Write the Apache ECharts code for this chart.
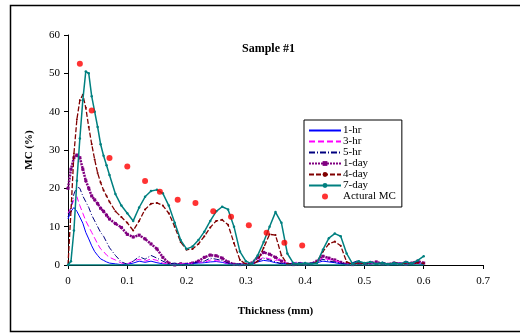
<!DOCTYPE html>
<html><head><meta charset="utf-8">
<script src="https://cdn.jsdelivr.net/npm/echarts@6/dist/echarts.min.js"></script>
<style>html,body{margin:0;padding:0;background:#fff}#c{width:520px;height:333px}</style>
</head><body><div id="c"></div>
<script>
const thickness = [0,0.005,0.01,0.015,0.02,0.025,0.03,0.035,0.04,0.045,0.05,0.055,0.06,0.065,0.07,
 0.08,0.09,0.10,0.11,0.12,0.13,0.14,0.15,0.16,0.17,0.18,0.19,0.20,0.21,0.22,0.23,0.24,0.25,0.26,0.27,0.28,0.29,
 0.30,0.31,0.32,0.33,0.34,0.35,0.36,0.37,0.38,0.39,0.40,0.41,0.42,0.43,0.44,0.45,0.46,0.47,0.48,0.49,
 0.50,0.51,0.52,0.53,0.54,0.55,0.56,0.57,0.58,0.59,0.60];
const hr1 = [12,14,15,14,12.5,10.9,8.5,6.8,5,3.5,2.5,1.6,1.2,0.8,0.5,
 0.3,0.1,0.2,0.5,1,0.7,1,0.6,0.3,0.1,0.2,0.1,0.3,0.4,0.5,0.6,0.8,0.9,0.7,0.3,0.1,0.2,
 0.1,0.3,0.8,1.2,1,0.6,0.4,0.2,0.3,0.2,0.4,0.2,0.6,1,0.8,0.6,0.3,0.1,0.5,0.8,
 0.3,0.6,0.2,0.5,0.3,0.2,0.5,0.3,0.2,0.4,0.1];
const hr3 = [13.5,15,17,17.8,15.5,13.5,11.5,10,8.5,7,5.5,4.2,3.5,2.6,2,
 1.3,0.5,0.3,1,1.5,1,1.6,1.2,0.5,0.2,0.1,0.3,0.2,0.5,0.8,0.7,1.3,1.1,1,0.3,0.1,0.2,
 0.1,0.4,1.2,2,1.6,1.2,1.5,0.4,0.6,0.8,0.3,0.5,1,1.8,1.4,1.2,0.6,0.2,0.4,0.3,
 0.6,0.2,0.5,0.3,0.2,0.5,0.6,0.3,0.2,0.5,0.2];
const hr5 = [12.5,15,18.5,20.4,20,18,16.5,15,13,11.5,10,8.5,7.5,6,4.5,
 2.5,0.8,0.2,1,2.2,1.5,2.5,1.8,1,0.3,0.5,0.2,0.1,0.5,0.8,1,1.8,1.5,1.2,0.5,0.3,0.2,
 0.1,0.4,1,1.8,1.3,0.8,0.3,0.5,0.2,0.6,0.3,0.5,0.8,1.5,1,0.8,0.5,0.2,0.6,1.2,
 0.4,1,0.3,0.8,0.2,0.7,0.3,1,0.4,0.8,0.3];
const day1 = [20,25,28,28.7,28,25,22,20,18,17,16,14.8,14,13,12,
 10.8,9.8,8,7.3,7.8,6.8,5.5,4.2,2,0.5,0,0.3,0.2,0.5,1,2,2.6,2.4,1.8,0.8,0.2,0.1,
 0.2,0.5,2,3.3,2.8,2,1,0.2,0.1,0.3,0.2,0.3,1,2.3,1.8,1.3,0.7,0.2,0.1,0.4,
 0.2,0.5,0.8,0.3,0.2,0.5,0.3,0.2,0.5,1,0.5];
const day4 = [0,14,29,38,43,44.4,41,36,31.5,27.5,24,21.5,19.5,18,16.5,
 14,12.5,11,9,11.5,14.5,16,16.2,15.5,13.5,10,6,4,4.2,5.5,7.5,9.8,11.5,11.8,10.5,5.7,1.3,
 0.2,0,1,4.5,8,7.8,2.5,0.2,0.3,0.1,0.4,0.2,0.8,3.5,5.5,6.1,5,0.8,0.2,0.6,
 0.3,0.7,0.2,0.5,0.2,0.6,0.3,0.5,0.2,0.6,0.4];
const day7 = [0,1,9,22,33,43,50.5,50,44,40,36,31.5,28.5,26,23.5,
 18.5,15.5,13.5,11.5,15,17.8,19.3,19.6,18.7,15.5,11,6.5,4.2,4.8,6.5,8.7,11.5,14,15.2,14.5,10,3.5,
 1,0.3,2.5,6,10,13.8,11,3,0.5,0.3,0.5,0.3,0.5,4,7,8.2,7.5,3,0.3,1,
 0.5,0.8,0.3,0.6,0.2,0.5,0.3,0.8,0.4,1.2,2.3];
const baseX = [0, 0.6];
const baseY = [0, 0];
const mcX = [0.02,0.04,0.07,0.10,0.13,0.155,0.185,0.215,0.245,0.275,0.305,0.335,0.365,0.395];
const mcY = [52.5,40.3,27.9,25.7,21.9,19.1,17.0,16.2,14.0,12.6,10.4,8.4,5.8,5.1];
const xTicks = [0,0.1,0.2,0.3,0.4,0.5,0.6,0.7];
const yTicks = [0,10,20,30,40,50,60];

const pair = (xs, ys) => xs.map((x, i) => [x, ys[i]]);
const F = 'Liberation Serif';
const noSym = {opacity: 0};
const chart = echarts.init(document.getElementById('c'), null, {renderer: 'canvas'});
chart.setOption({
  animation: false,
  backgroundColor: '#fff',
  title: {text: 'Sample #1', left: 237, top: 38,
    textStyle: {fontFamily: F, fontSize: 12, fontWeight: 'bold', color: '#000'}},
  grid: {left: 68, right: 37, top: 35, bottom: 68},
  legend: {
    orient: 'vertical', left: 304, top: 120, itemGap: 0, itemWidth: 32, itemHeight: 6,
    padding: [5, 6, 5, 4], borderColor: '#000', borderWidth: 1, backgroundColor: '#fff',
    textStyle: {fontFamily: F, fontSize: 11, lineHeight: 11, color: '#000', padding: [0,0,0,-3]},
    data: [
      {name: '1-hr', itemStyle: noSym},
      {name: '3-hr', itemStyle: noSym},
      {name: '5-hr', itemStyle: noSym},
      {name: '1-day'},
      {name: '4-day'},
      {name: '7-day'},
      {name: 'Actural MC'}
    ]
  },
  xAxis: {
    type: 'value', min: 0, max: 0.7, interval: 0.1,
    name: 'Thickness (mm)', nameLocation: 'middle', nameGap: 41,
    nameTextStyle: {fontFamily: F, fontSize: 11, fontWeight: 'bold', color: '#000'},
    axisLine: {lineStyle: {color: '#000', width: 1}},
    axisTick: {inside: false, length: 4, lineStyle: {color: '#000'}},
    axisLabel: {fontFamily: F, fontSize: 11, color: '#000', margin: 11,
      formatter: v => { const t = xTicks.find(k => Math.abs(k - v) < 1e-9); return t === undefined ? '' : String(t); }},
    splitLine: {show: false}
  },
  yAxis: {
    type: 'value', min: 0, max: 60, interval: 10,
    name: 'MC (%)', nameLocation: 'middle', nameGap: 33, nameRotate: 90,
    nameTextStyle: {fontFamily: F, fontSize: 11, fontWeight: 'bold', color: '#000'},
    axisLine: {show: true, lineStyle: {color: '#000', width: 1}},
    axisTick: {show: true, inside: false, length: 4, lineStyle: {color: '#000'}},
    axisLabel: {fontFamily: F, fontSize: 11, color: '#000', margin: 8,
      formatter: v => yTicks.includes(v) ? String(v) : ''},
    splitLine: {show: false}
  },
  graphic: [{type: 'rect', silent: true, z: 100,
    shape: {x: 10.5, y: 5.5, width: 540, height: 326},
    style: {fill: 'none', stroke: '#000', lineWidth: 1.5}}],
  series: [
    {name: '1-hr', type: 'line', data: pair(thickness, hr1), symbol: 'none',
      lineStyle: {color: '#0000FF', width: 1}, itemStyle: {color: '#0000FF'}, z: 3},
    {name: '3-hr', type: 'line', data: pair(thickness, hr3), symbol: 'none',
      lineStyle: {color: '#FF00FF', width: 1, type: [6, 3]}, itemStyle: {color: '#FF00FF'}, z: 3},
    {name: '5-hr', type: 'line', data: pair(thickness, hr5), symbol: 'none',
      lineStyle: {color: '#000080', width: 1, type: [6, 2, 1, 2]}, itemStyle: {color: '#000080'}, z: 3},
    {name: '1-day', type: 'line', data: pair(thickness, day1), symbol: 'rect', symbolSize: 3,
      lineStyle: {color: '#800080', width: 2.5, type: [2, 1]}, itemStyle: {color: '#800080'}, z: 2},
    {name: '4-day', type: 'line', data: pair(thickness, day4), symbol: 'circle', symbolSize: 2,
      lineStyle: {color: '#800000', width: 1.3, type: [5, 2]}, itemStyle: {color: '#800000'}, z: 4},
    {name: '7-day', type: 'line', data: pair(thickness, day7), symbol: 'circle', symbolSize: 2.5,
      lineStyle: {color: '#008080', width: 1.5}, itemStyle: {color: '#008080'}, z: 5},
    {name: '7-day base', type: 'line', data: pair(baseX, baseY), symbol: 'none',
      lineStyle: {color: '#008080', width: 1.5}, z: 5},
    {name: 'Actural MC', type: 'scatter', data: pair(mcX, mcY), symbol: 'circle', symbolSize: 6,
      itemStyle: {color: '#FF0000'}, z: 6}
  ]
});
</script></body></html>
